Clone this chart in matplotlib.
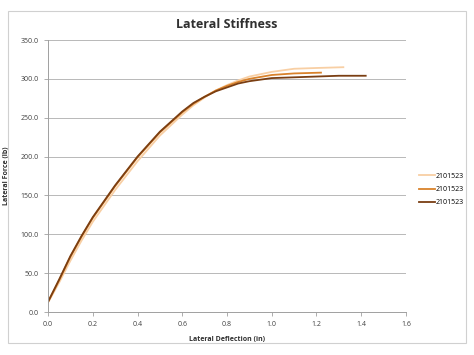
import matplotlib
matplotlib.use('Agg')
import matplotlib.pyplot as plt
from matplotlib.patches import Rectangle

plt.rcParams['font.family'] = ['Open Sans', 'DejaVu Sans']

# deflection (in) / force (lb)
x_light = [0.0, 0.05, 0.1, 0.15, 0.2, 0.3, 0.4, 0.5, 0.6, 0.65, 0.7, 0.75, 0.8, 0.85, 0.9, 1.0, 1.1, 1.2, 1.32]
y_light = [12, 38, 66, 92, 116, 157, 194, 227, 254, 266, 276, 285, 292, 298, 303, 309, 313, 314, 315]

x_mid = [0.0, 0.05, 0.1, 0.15, 0.2, 0.3, 0.4, 0.5, 0.6, 0.65, 0.7, 0.75, 0.8, 0.85, 0.9, 1.0, 1.1, 1.22]
y_mid = [13, 41, 71, 97, 121, 162, 199, 231, 257, 268, 277, 285, 291, 296, 300, 305, 307, 308]

x_dark = [0.0, 0.05, 0.1, 0.15, 0.2, 0.3, 0.4, 0.5, 0.6, 0.65, 0.7, 0.75, 0.8, 0.85, 0.9, 1.0, 1.1, 1.2, 1.3, 1.42]
y_dark = [13, 42, 72, 98, 122, 163, 200, 232, 258, 269, 277, 284, 289, 294, 297, 301, 302, 303, 304, 304]

labels = ['2101523', '2101523', '2101523']
colors = ['#F8CFA4', '#D9822B', '#7A3E12']

fig = plt.figure(figsize=(4.74, 3.55), dpi=100)
fig.patches.append(Rectangle((0.017, 0.034), 0.966, 0.935, transform=fig.transFigure,
                             fill=False, edgecolor='#D0D0D0', linewidth=0.8))

ax = fig.add_axes([0.1013, 0.1211, 0.7552, 0.7662])
ax.plot(x_light, y_light, color=colors[0], lw=1.3, label=labels[0])
ax.plot(x_mid, y_mid, color=colors[1], lw=1.3, label=labels[1])
ax.plot(x_dark, y_dark, color=colors[2], lw=1.3, label=labels[2])

ax.set_xlim(0, 1.6)
ax.set_ylim(0, 350)
ax.set_xticks([i * 0.2 for i in range(9)])
ax.set_yticks(range(0, 351, 50))
ax.xaxis.set_major_formatter(lambda v, p: '%.1f' % v)
ax.yaxis.set_major_formatter(lambda v, p: '%.1f' % v)
ax.tick_params(labelsize=5, colors='#404040', length=3, width=0.6, color='#A0A0A0')
ax.grid(axis='y', color='#B8B8B8', lw=0.7)
ax.set_axisbelow(True)
for s in ['top', 'right']:
    ax.spines[s].set_visible(False)
for s in ['left', 'bottom']:
    ax.spines[s].set_color('#A0A0A0')
    ax.spines[s].set_linewidth(0.7)

ax.set_title('Lateral Stiffness', fontsize=9, fontweight='bold', color='#303030', pad=9)
ax.set_xlabel('Lateral Deflection (in)', fontsize=5, fontweight='bold', color='#303030', labelpad=6)
ax.set_ylabel('Lateral Force (lb)', fontsize=5, fontweight='bold', color='#303030', labelpad=8)

ax.legend(loc='center left', bbox_to_anchor=(1.02, 0.45), frameon=False, fontsize=5,
          handlelength=2.2, handletextpad=0.2, labelspacing=0.9)

fig.savefig('out.png', dpi=100)
